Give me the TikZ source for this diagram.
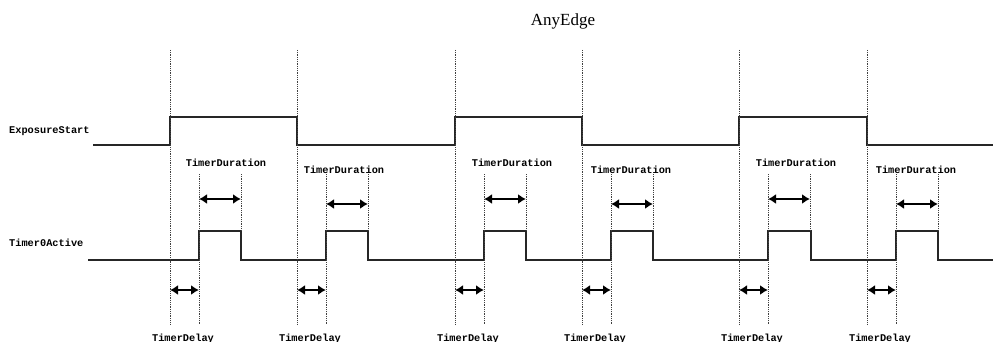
\documentclass[tikz,border=0pt]{standalone}
\usepackage{fontspec}
\setmainfont{Liberation Serif}
\newfontfamily\lblfont{Liberation Mono}
\usetikzlibrary{arrows.meta}
\begin{document}
\begin{tikzpicture}[x=1pt,y=-1pt,
  sig/.style={line width=1.8pt, draw=black!85},
  guide/.style={line width=0.8pt, densely dotted, draw=black!75},
  span/.style={line width=1.9pt, draw=black, {Latex[length=8pt,width=10pt]}-{Latex[length=8pt,width=10pt]}},
  lbl/.style={font=\lblfont\bfseries\fontsize{10.3}{12}\selectfont, inner sep=0pt, text=black},
  ttl/.style={font=\fontsize{17}{20}\selectfont, inner sep=0pt}]
\useasboundingbox[fill=white] (0,0) rectangle (993,342);

\node[ttl] (title) at (563,21) {AnyEdge};
\node[lbl, anchor=west] (lexp) at (9,131) {ExposureStart};
\node[lbl, anchor=west] (ltim) at (9,243) {Timer0Active};

% ExposureStart signal
\coordinate (es) at (93,145);
\coordinate (ee) at (993,145);
\draw[sig] (es) -- (170,145) -- (170,117) -- (297,117) -- (297,145)
  -- (455,145) -- (455,117) -- (582,117) -- (582,145)
  -- (739,145) -- (739,117) -- (867,117) -- (867,145) -- (ee);

% Timer0Active signal
\coordinate (ts) at (88,260);
\coordinate (te) at (993,260);
\draw[sig] (ts) -- (199,260) -- (199,231) -- (241,231) -- (241,260)
  -- (326,260) -- (326,231) -- (368,231) -- (368,260)
  -- (484,260) -- (484,231) -- (526,231) -- (526,260)
  -- (611,260) -- (611,231) -- (653,231) -- (653,260)
  -- (768,260) -- (768,231) -- (811,231) -- (811,260)
  -- (896,260) -- (896,231) -- (938,231) -- (938,260) -- (te);

\foreach \e/\o/\c [count=\i] in {170/0/56,297/1/47,455/0/57,582/1/49,739/0/57,867/1/49}{
  \coordinate (et\i) at (\e,50);
  \coordinate (eb\i) at (\e,325);
  \draw[guide] (et\i) -- (eb\i);
  \coordinate (pt\i) at (\e+29,174);
  \coordinate (pb\i) at (\e+29,325);
  \draw[guide] (pt\i) -- (pb\i);
  \coordinate (qt\i) at (\e+71,174);
  \coordinate (qb\i) at (\e+71,231);
  \draw[guide] (qt\i) -- (qb\i);
  % duration arrow
  \coordinate (da\i) at (\e+29,199+5*\o);
  \coordinate (db\i) at (\e+71,199+5*\o);
  \draw[span] (da\i) -- (db\i);
  % delay arrow
  \coordinate (ya\i) at (\e,290);
  \coordinate (yb\i) at (\e+29,290);
  \draw[span] (ya\i) -- (yb\i);
  \node[lbl] (dur\i) at (\e+\c,163+7*\o) {TimerDuration};
  \node[lbl, anchor=north] (del\i) at (\e+13,334) {TimerDelay};
}
\end{tikzpicture}
\end{document}
